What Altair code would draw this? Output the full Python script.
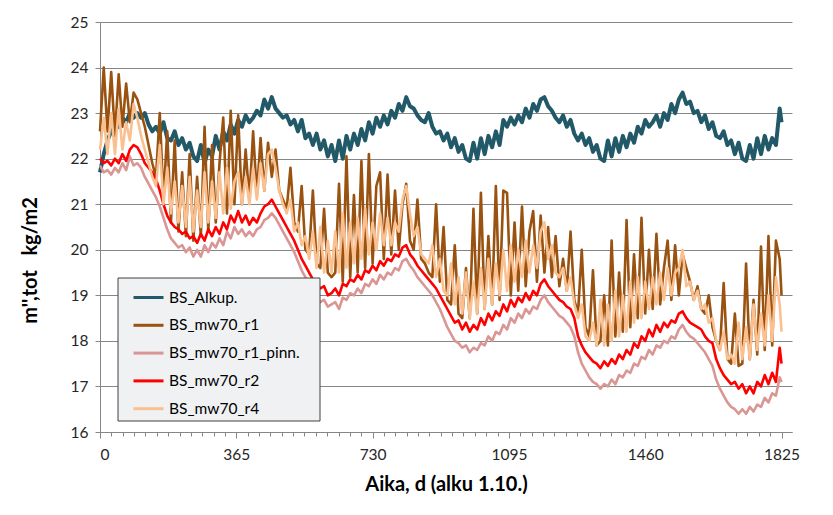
import altair as alt
import pandas as pd

series_names = ["BS_Alkup.", "BS_mw70_r1", "BS_mw70_r1_pinn.", "BS_mw70_r2", "BS_mw70_r4"]
series_colors = ["#215968", "#9a5210", "#d99694", "#ff0000", "#fac090"]
series_widths = [4.0, 2.6, 2.6, 2.6, 2.6]

days = list(range(0, 1821, 10)) + [1825]

alkup = [
    21.7, 22.1, 22.4, 22.6, 22.8, 22.7, 22.9, 22.8, 23.0, 22.9,
    23.0, 22.9, 23.0, 22.75, 22.6, 22.7, 22.55, 22.8, 22.45, 22.4,
    22.6, 22.3, 22.45, 22.2, 22.35, 22.05, 21.95, 22.3, 21.9, 22.2,
    22.05, 22.5, 22.2, 22.6, 22.4, 22.75, 22.55, 22.85, 22.7, 22.95,
    22.8, 22.9, 23.05, 22.95, 23.3, 23.1, 23.35, 23.1, 23.0, 22.9,
    22.95, 22.75, 22.85, 22.6, 22.85, 22.45, 22.55, 22.3, 22.55, 22.2,
    22.4, 22.05, 22.3, 21.95, 22.4, 22.0, 22.5, 22.2, 22.55, 22.3,
    22.65, 22.4, 22.8, 22.55, 22.9, 22.7, 22.95, 22.75, 23.05, 22.9,
    23.2, 23.05, 23.35, 23.15, 23.1, 22.95, 22.85, 22.8, 23.0, 22.7,
    22.55, 22.6, 22.4, 22.55, 22.25, 22.45, 22.15, 22.3, 22.0, 21.95,
    22.35, 22.0, 22.45, 22.1, 22.5, 22.25, 22.6, 22.3, 22.85, 22.7,
    22.9, 22.75, 22.95, 22.8, 23.1, 22.9, 23.2, 23.05, 23.3, 23.35,
    23.15, 23.05, 22.9, 22.8, 22.95, 22.7, 22.85, 22.55, 22.4, 22.55,
    22.3, 22.45, 22.15, 22.3, 22.0, 21.95, 22.4, 22.05, 22.45, 22.15,
    22.5, 22.25, 22.55, 22.35, 22.7, 22.55, 22.85, 22.7, 22.8, 22.95,
    22.7, 23.0, 22.85, 23.2, 23.0, 23.3, 23.45, 23.2, 23.25, 23.0,
    23.05, 22.8, 22.95, 22.65, 22.8, 22.5, 22.45, 22.6, 22.3, 22.4,
    22.1, 22.35, 22.0, 21.95, 22.3, 22.0, 22.45, 22.1, 22.5, 22.2,
    22.45, 22.3, 23.1, 22.8,
]

r1 = [
    22.6, 24.0, 22.6, 23.9, 22.5, 23.85, 22.7, 23.65, 22.8, 23.45,
    23.3, 23.0, 22.7, 22.3, 21.9, 21.6, 23.0, 21.1, 22.6, 20.6,
    22.4, 20.4, 21.7, 20.3, 22.1, 20.2, 21.6, 20.3, 22.7, 20.4,
    22.3, 20.6, 21.9, 22.9, 20.8, 23.05, 21.0, 22.95, 21.0, 22.2,
    21.1, 22.6, 21.2, 22.45, 21.3, 22.35, 21.6, 22.2, 21.3, 21.1,
    20.9, 21.8, 20.6, 20.4, 21.4, 20.0, 19.9, 21.3, 19.7, 19.6,
    20.9, 19.5, 19.4, 19.5, 21.45, 19.3, 22.05, 19.4, 21.2, 19.5,
    21.95, 19.6, 22.1, 19.7, 21.4, 21.7, 19.8, 21.65, 19.9, 21.3,
    20.0, 21.0, 21.45, 20.2, 20.0, 21.1, 19.8, 19.7, 19.5, 19.4,
    21.0, 19.3, 20.5, 18.9, 18.8, 20.1, 18.6, 18.5, 19.6, 18.5,
    20.9, 18.6, 21.25, 18.7, 20.3, 18.8, 21.4, 18.9, 21.3, 21.25,
    19.0, 20.6, 19.1, 20.95, 19.2, 20.4, 20.85, 19.3, 20.75, 19.5,
    20.5, 19.4, 20.3, 19.2, 19.8, 19.1, 20.4, 18.9, 18.6, 20.0,
    18.3, 18.1, 19.55, 17.9, 18.0, 19.0, 17.9, 20.2, 18.1, 19.5,
    18.2, 20.65, 18.3, 19.9, 18.5, 20.7, 18.6, 20.0, 18.7, 20.35,
    18.8, 19.6, 20.2, 18.9, 20.1, 19.0, 19.9, 19.6, 19.3, 18.9,
    19.2, 18.7, 18.6, 19.0, 18.3, 18.0, 17.8, 19.27, 17.6, 17.5,
    18.6, 17.45, 17.5, 19.7, 17.6, 18.9, 17.7, 20.07, 17.8, 20.3,
    17.9, 20.2, 19.8, 19.0,
]

r1_pinn = [
    21.85, 21.7, 21.75, 21.65, 21.8, 21.7, 21.9, 21.75, 22.05, 21.85,
    21.9, 21.8, 21.6, 21.45, 21.3, 21.15, 20.95, 20.7, 20.45, 20.25,
    20.15, 20.05, 20.1, 19.95, 20.05, 19.85, 20.0, 19.85, 20.1, 19.95,
    20.15, 20.05, 20.25, 20.1, 20.4, 20.25, 20.5, 20.35, 20.45, 20.3,
    20.4, 20.3, 20.45, 20.5, 20.65, 20.7, 20.8, 20.7, 20.55, 20.4,
    20.25, 20.1, 19.95, 19.75, 19.55, 19.4, 19.25, 19.1, 18.95, 18.85,
    18.9, 18.75, 18.8, 18.85, 18.7, 18.95, 18.9, 19.05, 19.0, 19.15,
    19.05, 19.25, 19.2, 19.35, 19.25, 19.45, 19.35, 19.5, 19.45, 19.6,
    19.55, 19.75, 19.8, 19.65, 19.55, 19.4, 19.3, 19.2, 19.1, 19.0,
    18.85, 18.7, 18.5, 18.3, 18.15, 18.0, 17.95, 17.85, 17.9, 17.75,
    17.85, 17.8, 17.95, 17.9, 18.1, 18.0, 18.2, 18.15, 18.35, 18.25,
    18.5, 18.4, 18.6, 18.5, 18.7, 18.6, 18.75, 18.7, 18.9, 19.0,
    18.85, 18.75, 18.65, 18.55, 18.5, 18.4, 18.3, 18.1, 17.75, 17.5,
    17.35, 17.2, 17.1, 17.05, 16.95, 17.05, 17.0, 17.15, 17.05, 17.25,
    17.2, 17.35, 17.3, 17.5, 17.45, 17.65, 17.6, 17.8, 17.7, 17.9,
    17.85, 18.0, 17.95, 18.1, 18.05, 18.25, 18.35, 18.2, 18.1, 18.05,
    17.95, 17.85, 17.75, 17.6, 17.45, 17.15, 16.95, 16.8, 16.65, 16.55,
    16.5, 16.4, 16.5, 16.4, 16.55, 16.45, 16.6, 16.55, 16.75, 16.65,
    16.85, 16.8, 17.2, 17.1,
]

r2 = [
    22.0, 21.9, 21.95, 21.85, 22.0, 21.9, 22.1, 21.95, 22.2, 22.3,
    22.25, 22.1, 21.9, 21.8, 21.7, 21.55, 21.3, 21.0, 20.75, 20.6,
    20.5, 20.45, 20.35, 20.4, 20.25, 20.3, 20.15, 20.35, 20.2, 20.45,
    20.3, 20.5, 20.35, 20.6, 20.45, 20.75, 20.6, 20.85, 20.6, 20.75,
    20.55, 20.7, 20.6, 20.8, 20.95, 21.0, 21.1, 20.95, 20.8, 20.65,
    20.5, 20.35, 20.2, 20.0, 19.8, 19.65, 19.5, 19.35, 19.25, 19.15,
    19.2, 19.0, 19.05, 19.15, 19.0, 19.25, 19.2, 19.35, 19.3, 19.45,
    19.35, 19.55, 19.5, 19.65, 19.55, 19.75, 19.65, 19.8, 19.75, 19.9,
    19.85, 20.05, 20.1, 19.9, 19.8, 19.65, 19.55, 19.45, 19.35, 19.25,
    19.15, 19.0, 18.85, 18.7, 18.55, 18.4, 18.45, 18.25, 18.4, 18.2,
    18.35, 18.25, 18.5, 18.35, 18.6, 18.45, 18.65, 18.55, 18.8, 18.65,
    18.9, 18.75, 18.95, 18.85, 19.05, 18.9, 19.1, 19.0, 19.25, 19.35,
    19.2, 19.1, 19.0, 18.9, 18.85, 18.75, 18.7, 18.5, 18.1, 17.9,
    17.75, 17.65, 17.55, 17.5, 17.4, 17.55, 17.45, 17.6, 17.5, 17.7,
    17.6, 17.8, 17.7, 17.95, 17.85, 18.1, 18.0, 18.25, 18.1, 18.35,
    18.2, 18.4, 18.3, 18.45, 18.4, 18.6, 18.65, 18.5, 18.4, 18.35,
    18.3, 18.25, 18.1, 18.0, 17.95, 17.6, 17.4, 17.25, 17.15, 17.05,
    17.1, 16.95, 17.05, 16.85, 17.0, 16.85, 17.1, 17.0, 17.25, 17.05,
    17.3, 17.1, 17.85, 17.5,
]

r4 = [
    22.2, 22.9, 22.1, 23.0, 22.1, 23.1, 22.2, 22.8, 22.4, 23.2,
    22.9, 22.5, 22.2, 21.9, 21.6, 21.4, 22.3, 21.0, 21.8, 20.8,
    21.5, 20.6, 21.4, 20.5, 21.6, 20.4, 21.3, 20.5, 21.7, 20.6,
    21.5, 20.7, 21.7, 20.8, 21.8, 20.9, 21.5, 21.7, 21.0, 21.6,
    21.0, 21.8, 21.1, 21.9, 21.3, 22.1, 22.2, 21.8, 21.3, 21.0,
    20.8, 21.1, 20.4, 20.6, 20.1, 20.3, 19.8, 20.4, 19.6, 20.5,
    19.5, 20.2, 19.5, 20.4, 19.5, 20.8, 19.6, 20.6, 19.7, 20.7,
    19.8, 20.9, 19.9, 20.6, 20.0, 20.8, 20.1, 20.7, 20.1, 20.6,
    20.4, 21.1, 21.4, 20.8, 20.3, 20.5, 19.9, 19.8, 19.7, 20.1,
    19.4, 19.8, 19.1, 19.0, 19.7, 18.8, 19.4, 18.6, 19.5, 18.5,
    19.3, 18.6, 19.6, 18.7, 19.8, 18.8, 19.7, 19.0, 20.0, 19.1,
    20.1, 19.3, 20.0, 19.4, 20.2, 19.5, 20.1, 19.6, 20.4, 20.6,
    19.8, 20.1, 19.5, 19.4, 19.6, 19.1, 19.4, 18.8, 18.5, 18.8,
    18.1, 18.0, 18.4, 17.9, 18.9, 17.9, 18.8, 18.0, 19.1, 18.1,
    19.0, 18.2, 19.3, 18.4, 19.4, 18.5, 19.3, 18.7, 19.4, 18.8,
    19.5, 18.9, 19.6, 19.0, 19.5, 19.6, 20.0, 19.2, 19.3, 18.9,
    19.1, 18.7, 18.8, 18.4, 18.5, 18.0, 17.8, 18.2, 17.6, 17.7,
    17.5, 18.4, 17.6, 18.3, 17.6, 18.8, 17.8, 18.6, 17.9, 19.0,
    18.0, 19.4, 18.8, 18.2,
]

major_ticks = [0, 365, 730, 1095, 1460, 1825]
y_ticks = [16, 17, 18, 19, 20, 21, 22, 23, 24, 25]
minor_ticks = [round(k * 365 / 12, 2) for k in range(61)]

values_by_series = [alkup, r1, r1_pinn, r2, r4]
rows = []
for name, vals in zip(series_names, values_by_series):
    for d, v in zip(days, vals):
        rows.append({"series": name, "day": d, "value": v})
df = pd.DataFrame(rows)

FONT = "Lato"
GRID = "#868686"

x_enc = alt.X(
    "day:Q",
    scale=alt.Scale(domain=[0, 1853], nice=False, zero=False),
    axis=alt.Axis(
        values=minor_ticks,
        format="d",
        labelExpr="datum.value % 365 === 0 ? datum.label : ''",
        tickSize={"condition": {"test": "datum.value % 365 === 0", "value": 6}, "value": 4},
        labelOverlap=False,
        grid=False,
        domainColor=GRID,
        tickColor=GRID,
        labelFont=FONT,
        labelFontSize=15.5,
        labelColor="#262626",
        labelPadding=9,
        title="Aika, d (alku 1.10.)",
        titleFont=FONT,
        titleFontSize=20,
        titleFontWeight="bold",
        titleColor="#000000",
        titleY=52,
        titleBaseline="middle",
    ),
)

y_enc = alt.Y(
    "value:Q",
    scale=alt.Scale(domain=[16, 25], nice=False, zero=False),
    axis=alt.Axis(
        values=y_ticks,
        grid=True,
        gridColor=GRID,
        domainColor=GRID,
        tickColor=GRID,
        tickSize=5,
        labelFont=FONT,
        labelFontSize=15.5,
        labelColor="#262626",
        labelPadding=7,
        title="m'',tot\u00a0\u00a0 kg/m2",
        titleFont=FONT,
        titleFontSize=20,
        titleFontWeight="bold",
        titleColor="#000000",
        titleX=-70,
        titleY=238,
        titleAlign="center",
        titleBaseline="middle",
    ),
)

color_enc = alt.Color(
    "series:N",
    scale=alt.Scale(domain=series_names, range=series_colors),
    sort=series_names,
    legend=alt.Legend(
        title=None,
        orient="none",
        legendX=18,
        legendY=256,
        direction="vertical",
        padding=3,
        symbolOffset=11,
        symbolType="stroke",
        symbolSize=900,
        symbolStrokeWidth=3,
        labelFont=FONT,
        labelFontSize=15.5,
        labelColor="#000000",
        labelOffset=4,
        rowPadding=2.8,
        labelLimit=300,
    ),
)

layers = []
for name, w in zip(series_names, series_widths):
    layers.append(
        alt.Chart(df)
        .transform_filter(alt.datum.series == name)
        .mark_line(strokeWidth=w, strokeJoin="round")
        .encode(x=x_enc, y=y_enc, color=color_enc)
    )

# legend box (drawn over the lines, under the legend entries)
legend_box = (
    alt.Chart(pd.DataFrame({"box": [0]}))
    .mark_rect(fill="#f0f1f3", stroke="#404040", strokeWidth=1)
    .encode(
        x=alt.value(18),
        x2=alt.value(220),
        y=alt.value(256),
        y2=alt.value(399),
    )
)
layers.append(legend_box)

chart = (
    alt.layer(*layers)
    .properties(
        width=692,
        height=410,
        autosize=alt.AutoSizeParams(type="none"),
        padding={"left": 92, "top": 14, "right": 33, "bottom": 75},
        background="#ffffff",
    )
    .configure_view(stroke=None)
)

chart.save("out.html", embed_options={"renderer": "svg", "actions": False})
